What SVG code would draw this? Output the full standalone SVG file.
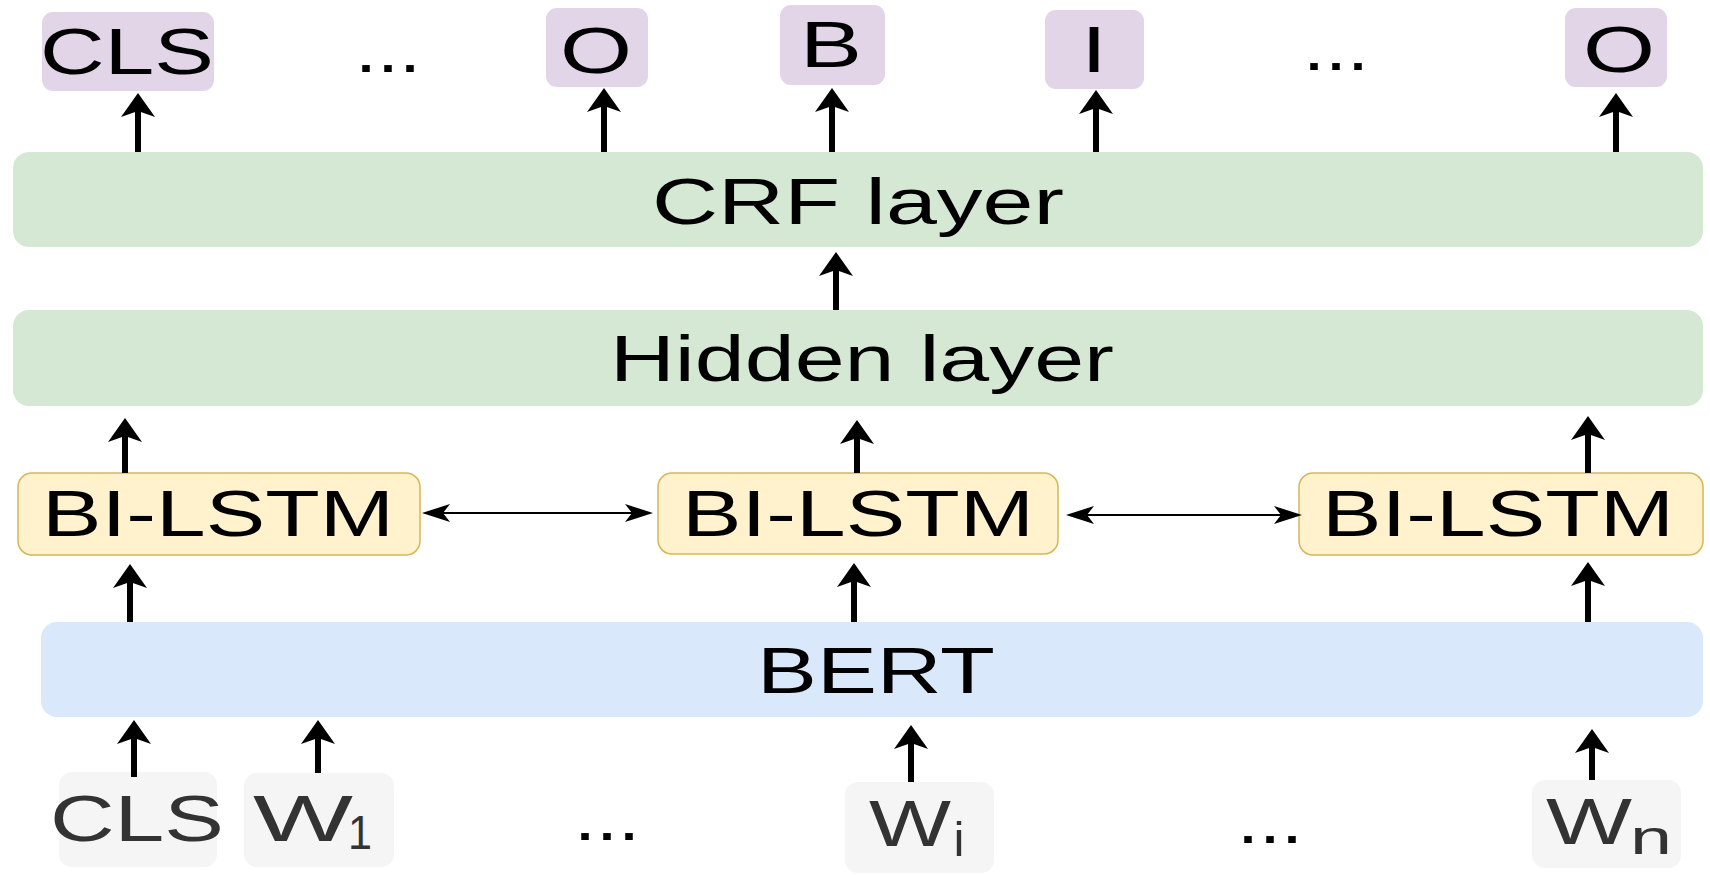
<svg xmlns="http://www.w3.org/2000/svg" width="1710" height="875" viewBox="0 0 1710 875">
<style>
text{font-family:"Liberation Sans",Arial,sans-serif;font-size:64px;fill:#000;text-anchor:middle;}
.g text{fill:#333;}
.sub{font-size:48px;}
.tag{fill:#e1d5e7;}
.layer{fill:#d5e8d4;}
.lstm{fill:#fff2cc;stroke:#d6b656;stroke-width:1.5;}
.bert{fill:#dae8fc;}
.inp{fill:#f5f5f5;}
.up{stroke:#000;stroke-width:6;fill:none;marker-end:url(#head);}
.bi{stroke:#000;stroke-width:2;fill:none;marker-start:url(#thin);marker-end:url(#thin);}
</style>
<defs>
<marker id="head" markerUnits="userSpaceOnUse" viewBox="-2 -20 28 40" markerWidth="28" markerHeight="40" refX="6" refY="0" orient="auto">
<path d="M0,-17 L24,0 L0,17 L6,0 Z" fill="#000"/>
</marker>
<marker id="thin" markerUnits="userSpaceOnUse" viewBox="-2 -11 32 22" markerWidth="32" markerHeight="22" refX="7" refY="0" orient="auto-start-reverse">
<path d="M0,-9 L28,0 L0,9 L7,0 Z" fill="#000"/>
</marker>
</defs>
<rect width="1710" height="875" fill="#fff"/>

<g id="tag-cls"><rect class="tag" x="42" y="12" width="172" height="79" rx="11"/><text x="127" y="74" textLength="174" lengthAdjust="spacingAndGlyphs">CLS</text></g>
<g id="dots-top-1"><text x="388" y="72" textLength="66" lengthAdjust="spacingAndGlyphs">...</text></g>
<g id="tag-o1"><rect class="tag" x="546" y="8" width="102" height="79" rx="11"/><text x="596" y="73" textLength="72" lengthAdjust="spacingAndGlyphs">O</text></g>
<g id="tag-b"><rect class="tag" x="780" y="5" width="105" height="80" rx="11"/><text x="831" y="67" textLength="62" lengthAdjust="spacingAndGlyphs">B</text></g>
<g id="tag-i"><rect class="tag" x="1045" y="10" width="99" height="79" rx="11"/><text x="1094" y="72" textLength="26" lengthAdjust="spacingAndGlyphs">I</text></g>
<g id="dots-top-2"><text x="1336" y="70" textLength="66" lengthAdjust="spacingAndGlyphs">...</text></g>
<g id="tag-o2"><rect class="tag" x="1565" y="8" width="102" height="79" rx="11"/><text x="1619" y="72" textLength="72" lengthAdjust="spacingAndGlyphs">O</text></g>

<g id="crf"><rect class="layer" x="13" y="152" width="1690" height="95" rx="16"/><text x="858" y="224" textLength="412" lengthAdjust="spacingAndGlyphs">CRF layer</text></g>
<g id="hidden"><rect class="layer" x="13" y="310" width="1690" height="96" rx="16"/><text x="862" y="381" textLength="504" lengthAdjust="spacingAndGlyphs">Hidden layer</text></g>

<g id="lstm-1"><rect class="lstm" x="18" y="473" width="402" height="82" rx="14"/><text x="218" y="536" textLength="352" lengthAdjust="spacingAndGlyphs">BI-LSTM</text></g>
<g id="lstm-2"><rect class="lstm" x="658" y="473" width="400" height="81" rx="14"/><text x="858" y="536" textLength="352" lengthAdjust="spacingAndGlyphs">BI-LSTM</text></g>
<g id="lstm-3"><rect class="lstm" x="1299" y="473" width="404" height="82" rx="14"/><text x="1498" y="536" textLength="352" lengthAdjust="spacingAndGlyphs">BI-LSTM</text></g>

<g id="bert"><rect class="bert" x="41" y="622" width="1662" height="95" rx="16"/><text x="876" y="693" textLength="238" lengthAdjust="spacingAndGlyphs">BERT</text></g>

<g id="in-cls" class="g"><rect class="inp" x="59" y="772" width="158" height="95" rx="13"/><text x="137" y="841" textLength="174" lengthAdjust="spacingAndGlyphs">CLS</text></g>
<g id="in-w1" class="g"><rect class="inp" x="244" y="773" width="150" height="94" rx="13"/><text x="303" y="841" textLength="100" lengthAdjust="spacingAndGlyphs">W</text><text class="sub" x="360" y="849" textLength="24" lengthAdjust="spacingAndGlyphs">1</text></g>
<g id="dots-bottom-1"><text x="607" y="840" textLength="66" lengthAdjust="spacingAndGlyphs">...</text></g>
<g id="in-wi" class="g"><rect class="inp" x="845" y="782" width="149" height="91" rx="13"/><text x="910" y="846" textLength="82" lengthAdjust="spacingAndGlyphs">W</text><text class="sub" x="959" y="856" textLength="11" lengthAdjust="spacingAndGlyphs">i</text></g>
<g id="dots-bottom-2"><text x="1270" y="843" textLength="66" lengthAdjust="spacingAndGlyphs">...</text></g>
<g id="in-wn" class="g"><rect class="inp" x="1532" y="780" width="149" height="88" rx="13"/><text x="1589" y="844" textLength="86" lengthAdjust="spacingAndGlyphs">W</text><text class="sub" x="1651" y="854" textLength="42" lengthAdjust="spacingAndGlyphs">n</text></g>

<g id="connectors">
<line class="up" x1="138" y1="152" x2="138" y2="111"/>
<line class="up" x1="604" y1="152" x2="604" y2="106"/>
<line class="up" x1="832" y1="152" x2="832" y2="106"/>
<line class="up" x1="1096" y1="152" x2="1096" y2="108"/>
<line class="up" x1="1616" y1="152" x2="1616" y2="111"/>
<line class="up" x1="836" y1="310" x2="836" y2="270"/>
<line class="up" x1="125" y1="473" x2="125" y2="436"/>
<line class="up" x1="857" y1="473" x2="857" y2="438"/>
<line class="up" x1="1588" y1="473" x2="1588" y2="434"/>
<line class="up" x1="130" y1="622" x2="130" y2="582"/>
<line class="up" x1="854" y1="622" x2="854" y2="581"/>
<line class="up" x1="1588" y1="622" x2="1588" y2="580"/>
<line class="up" x1="134" y1="777" x2="134" y2="738"/>
<line class="up" x1="318" y1="773" x2="318" y2="738"/>
<line class="up" x1="911" y1="782" x2="911" y2="743"/>
<line class="up" x1="1592" y1="780" x2="1592" y2="747"/>
<line class="bi" x1="443" y1="513" x2="632" y2="513"/>
<line class="bi" x1="1087" y1="515" x2="1281" y2="515"/>
</g>
</svg>
